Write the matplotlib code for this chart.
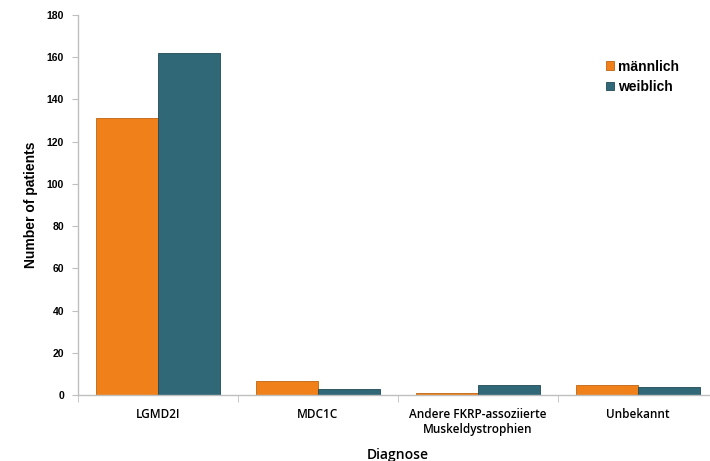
import matplotlib
matplotlib.use("Agg")
import matplotlib.pyplot as plt
import numpy as np

categories = ["LGMD2I", "MDC1C", "Andere FKRP-assoziierte\nMuskeldystrophien", "Unbekannt"]
series_names = ["männlich", "weiblich"]
maennlich = [131, 7, 1, 5]
weiblich = [162, 3, 5, 4]
yticks = [0, 20, 40, 60, 80, 100, 120, 140, 160, 180]

c_orange = "#F0811A"
c_teal = "#306877"
spine_c = "#BFBFBF"

fig = plt.figure(figsize=(7.10, 4.61), dpi=100)
ax = fig.add_axes([78/710, 65.7/461, 640/710, 380.5/461])

x = np.arange(len(categories))
w = 0.39
ax.bar(x - w/2, maennlich, w, color=c_orange, edgecolor="#C0650F", linewidth=0.6, label=series_names[0])
ax.bar(x + w/2, weiblich, w, color=c_teal, edgecolor="#1F4A55", linewidth=0.6, label=series_names[1])

ax.set_xlim(-0.5, 3.5)
ax.set_ylim(0, 180)
ax.set_yticks(yticks)
ax.set_yticklabels([str(v) for v in yticks], fontfamily="Liberation Sans", fontweight="bold", fontsize=7.5)

ax.set_xticks(x)
ax.set_xticklabels(categories, fontfamily="Open Sans", fontsize=8.5, fontweight="semibold")
ax.tick_params(axis="x", length=0, pad=9)
ax.set_xticks(np.arange(-0.5, 4.0, 1.0), minor=True)
ax.tick_params(axis="x", which="minor", length=5, color=spine_c, direction="out")
ax.tick_params(axis="y", length=4, color=spine_c, direction="out", pad=6)

for s in ["top", "right"]:
    ax.spines[s].set_visible(False)
for s in ["left", "bottom"]:
    ax.spines[s].set_color(spine_c)
    ax.spines[s].set_linewidth(1.0)

ax.set_ylabel("Number of patients", fontfamily="Liberation Sans", fontweight="bold", fontsize=10, labelpad=6)
ax.set_xlabel("Diagnose", fontfamily="Open Sans", fontweight="semibold", fontsize=10, labelpad=9)

ax.legend(loc="upper left", bbox_to_anchor=((600-78)/640, (407-65.7)/380.5), frameon=False,
          prop={"family": "Liberation Sans", "weight": "bold", "size": 10},
          handlelength=0.6, handleheight=0.6, handletextpad=0.3, labelspacing=0.45,
          borderaxespad=0)

fig.savefig("out.png", dpi=100)
